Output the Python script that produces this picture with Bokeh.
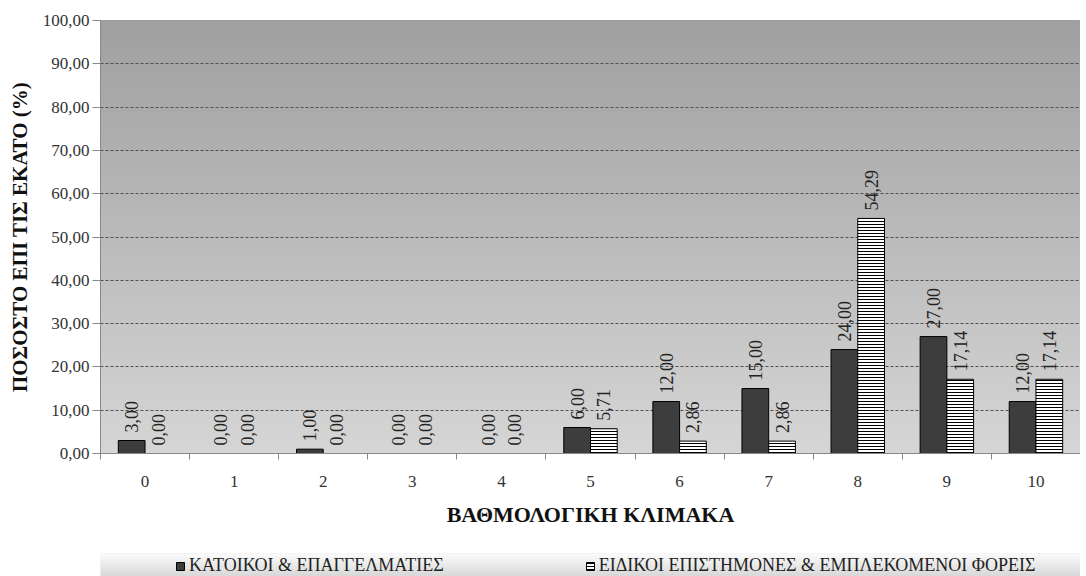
import numpy as np
from math import pi
from bokeh.plotting import figure
from bokeh.layouts import column
from bokeh.models import (Range1d, FixedTicker, Legend, LegendItem, ColumnDataSource)
from bokeh.core.properties import value
from bokeh.embed import file_html
from bokeh.resources import INLINE

# ---- data ----
categories = ["0", "1", "2", "3", "4", "5", "6", "7", "8", "9", "10"]
residents = [3.00, 0.00, 1.00, 0.00, 0.00, 6.00, 12.00, 15.00, 24.00, 27.00, 12.00]
experts = [0.00, 0.00, 0.00, 0.00, 0.00, 5.71, 2.86, 2.86, 54.29, 17.14, 17.14]
series_names = ["ΚΑΤΟΙΚΟΙ & ΕΠΑΓΓΕΛΜΑΤΙΕΣ", "ΕΙΔΙΚΟΙ ΕΠΙΣΤΗΜΟΝΕΣ & ΕΜΠΛΕΚΟΜΕΝΟΙ ΦΟΡΕΙΣ"]
y_ticks = [0, 10, 20, 30, 40, 50, 60, 70, 80, 90, 100]
x_title = "ΒΑΘΜΟΛΟΓΙΚΗ ΚΛΙΜΑΚΑ"
y_title = "ΠΟΣΟΣΤΟ ΕΠΙ ΤΙΣ ΕΚΑΤΟ (%)"

FONT = "Liberation Serif"
fmt = lambda v: f"{v:.2f}".replace(".", ",")

n = len(categories)
centers = [i + 0.5 for i in range(n)]
bw = 0.3

src1 = ColumnDataSource(dict(x=[c - bw / 2 for c in centers], top=residents,
                             lab=[fmt(v) for v in residents]))
src2 = ColumnDataSource(dict(x=[c + bw / 2 for c in centers], top=experts,
                             lab=[fmt(v) for v in experts]))


def vertical_gradient(top_hex, bottom_hex, rows=100):
    top_c = np.array([int(top_hex[i:i + 2], 16) for i in (1, 3, 5)], dtype=float)
    bot_c = np.array([int(bottom_hex[i:i + 2], 16) for i in (1, 3, 5)], dtype=float)
    img = np.zeros((rows, 1), dtype=np.uint32)
    view = img.view(dtype=np.uint8).reshape((rows, 1, 4))
    for r in range(rows):
        t = r / (rows - 1)
        view[r, 0, 0:3] = (bot_c + (top_c - bot_c) * t).astype(np.uint8)
        view[r, 0, 3] = 255
    return img


BAR1 = dict(fill_color="#3d3d3d", line_color="black", line_width=1)
BAR2 = dict(fill_color="white", line_color="black", line_width=1,
            hatch_pattern="horizontal_line", hatch_color="black",
            hatch_scale=3, hatch_weight=1)

# ---------------- main chart ----------------
p = figure(width=1080, height=553, x_range=Range1d(0, n), y_range=Range1d(0, 100),
           output_backend="svg", toolbar_location=None,
           min_border_left=98, min_border_right=0, min_border_top=20, min_border_bottom=100)
p.background_fill_color = "#c0c0c0"
p.border_fill_color = "white"
p.outline_line_color = "#9a9a9a"

p.image_rgba(image=[vertical_gradient("#a0a0a0", "#d6d6d6")], x=0, y=0, dw=n, dh=100,
             level="image")

p.xgrid.grid_line_color = None
p.ygrid.ticker = FixedTicker(ticks=y_ticks[1:-1])
p.ygrid.grid_line_color = "#505050"
p.ygrid.grid_line_dash = "3 2"
p.ygrid.grid_line_width = 1

p.vbar(x="x", top="top", width=bw, bottom=0, source=src1, **BAR1)
p.vbar(x="x", top="top", width=bw, bottom=0, source=src2, **BAR2)

for s in (src1, src2):
    p.text(x="x", y="top", text="lab", source=s, angle=pi / 2,
           text_align="left", text_baseline="middle", y_offset=-8,
           text_font=value(FONT), text_font_size="18px", text_color="#222")

xa = p.xaxis[0]
xa.ticker = FixedTicker(ticks=centers, minor_ticks=list(range(0, n + 1)))
xa.major_label_overrides = {c: lab for c, lab in zip(centers, categories)}
xa.major_tick_line_color = None
xa.major_tick_out = 0
xa.major_tick_in = 0
xa.minor_tick_line_color = "#888888"
xa.minor_tick_out = 6
xa.minor_tick_in = 0
xa.axis_line_color = "#888888"
xa.major_label_standoff = 16
xa.major_label_text_font = FONT
xa.major_label_text_font_size = "17px"
xa.major_label_text_color = "#333333"
xa.axis_label = x_title
xa.axis_label_text_font = FONT
xa.axis_label_text_font_style = "bold"
xa.axis_label_text_font_size = "22px"
xa.axis_label_text_color = "#111111"
xa.axis_label_standoff = 12

ya = p.yaxis[0]
ya.ticker = FixedTicker(ticks=y_ticks)
ya.major_label_overrides = {v: fmt(v) for v in y_ticks}
ya.minor_tick_line_color = None
ya.major_tick_out = 8
ya.major_tick_in = 0
ya.major_tick_line_color = "#888888"
ya.axis_line_color = "#888888"
ya.major_label_standoff = 3
ya.major_label_text_font = FONT
ya.major_label_text_font_size = "17px"
ya.major_label_text_color = "#333333"
ya.axis_label = y_title
ya.axis_label_text_font = FONT
ya.axis_label_text_font_style = "bold"
ya.axis_label_text_font_size = "21px"
ya.axis_label_text_color = "#111111"
ya.axis_label_standoff = 8

# ---------------- legend strip ----------------
lg = figure(width=1080, height=23, x_range=Range1d(0, 1), y_range=Range1d(0, 1),
            output_backend="svg", toolbar_location=None,
            x_axis_location=None, y_axis_location=None,
            min_border_left=100, min_border_right=0, min_border_top=0, min_border_bottom=0)
lg.grid.grid_line_color = None
lg.outline_line_color = None
lg.border_fill_color = "white"
lg.background_fill_color = "#e6e6e6"
lg.image_rgba(image=[vertical_gradient("#fcfcfc", "#d8d8d8")], x=0, y=0, dw=1, dh=1,
              level="image")
k1 = lg.vbar(x="x", top="top", width=bw, bottom=0, source=src1, visible=False, **BAR1)
k2 = lg.vbar(x="x", top="top", width=bw, bottom=0, source=src2, visible=False, **BAR2)

legend = Legend(items=[LegendItem(label=series_names[0], renderers=[k1]),
                       LegendItem(label=series_names[1], renderers=[k2])],
                orientation="horizontal", location=(75, 0), click_policy="none",
                glyph_width=10, glyph_height=10, label_standoff=4, spacing=141,
                padding=2, margin=0, label_height=18,
                label_text_font=FONT, label_text_font_size="18px", label_text_color="#222222",
                background_fill_alpha=0, border_line_color=None)
lg.add_layout(legend, "center")

layout = column(p, lg, spacing=0)
open("out.html", "w").write(file_html(layout, INLINE))
